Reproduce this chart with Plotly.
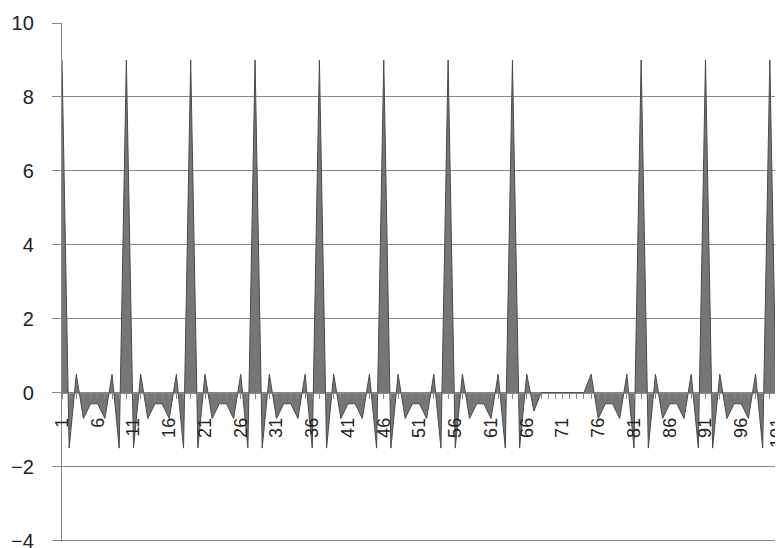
import plotly.graph_objects as go

categories = list(range(1, 103))
values = [
    9, -1.5, 0.5, -0.7, -0.3, -0.3, -0.7, 0.5, -1.5,
    9, -1.5, 0.5, -0.7, -0.3, -0.3, -0.7, 0.5, -1.5,
    9, -1.5, 0.5, -0.7, -0.3, -0.3, -0.7, 0.5, -1.5,
    9, -1.5, 0.5, -0.7, -0.3, -0.3, -0.7, 0.5, -1.5,
    9, -1.5, 0.5, -0.7, -0.3, -0.3, -0.7, 0.5, -1.5,
    9, -1.5, 0.5, -0.7, -0.3, -0.3, -0.7, 0.5, -1.5,
    9, -1.5, 0.5, -0.7, -0.3, -0.3, -0.7, 0.5, -1.5,
    9, -1.5, 0.5, -0.5, 0, 0, 0, 0, 0,
    0, 0, 0.5, -0.7, -0.3, -0.3, -0.7, 0.5, -1.5,
    9, -1.5, 0.5, -0.7, -0.3, -0.3, -0.7, 0.5, -1.5,
    9, -1.5, 0.5, -0.7, -0.3, -0.3, -0.7, 0.5, -1.5,
    9, -1.5, 0.5,
]
x_tick_vals = [1, 6, 11, 16, 21, 26, 31, 36, 41, 46, 51, 56, 61, 66, 71, 76, 81, 86, 91, 96, 101]
x_tick_text = [str(v) for v in x_tick_vals]
y_tick_vals = [-4, -2, 0, 2, 4, 6, 8, 10]

fig = go.Figure()
fig.add_trace(go.Scatter(
    x=categories, y=values, mode="lines", fill="tozeroy",
    fillcolor="#767676", line=dict(color="#4a4a4a", width=1),
    hoverinfo="skip", showlegend=False,
))

fig.update_layout(
    width=783, height=548,
    margin=dict(l=54, r=8, t=15, b=14, autoexpand=False),
    paper_bgcolor="white", plot_bgcolor="white",
    font=dict(family="Liberation Sans, Arial, sans-serif", size=16, color="#222"),
    xaxis=dict(
        range=[1, 101.84], anchor="free", position=4.04 / 14.04, automargin=False,
        tickmode="array", tickvals=x_tick_vals, ticktext=x_tick_text,
        tickangle=-90, ticks="outside", ticklen=5, tickcolor="#888",
        showgrid=False, zeroline=False, showline=True, linecolor="#888", linewidth=1,
        minor=dict(dtick=1, tick0=1, ticks="outside", ticklen=5, tickcolor="#888", showgrid=False),
        ticklabelstandoff=12, ticklabeloverflow="allow", tickfont=dict(size=18, color="#222"),
    ),
    yaxis=dict(
        range=[-4.04, 10], tickvals=y_tick_vals, ticks="outside", ticklen=9, tickcolor="#888",
        showgrid=True, gridcolor="#8a8a8a", gridwidth=1.3, zeroline=False, automargin=False,
        showline=True, linecolor="#888", linewidth=1.3,
        ticklabelstandoff=14, ticklabeloverflow="allow", tickfont=dict(size=20, color="#222"),
    ),
)

fig.write_html("out.html")
